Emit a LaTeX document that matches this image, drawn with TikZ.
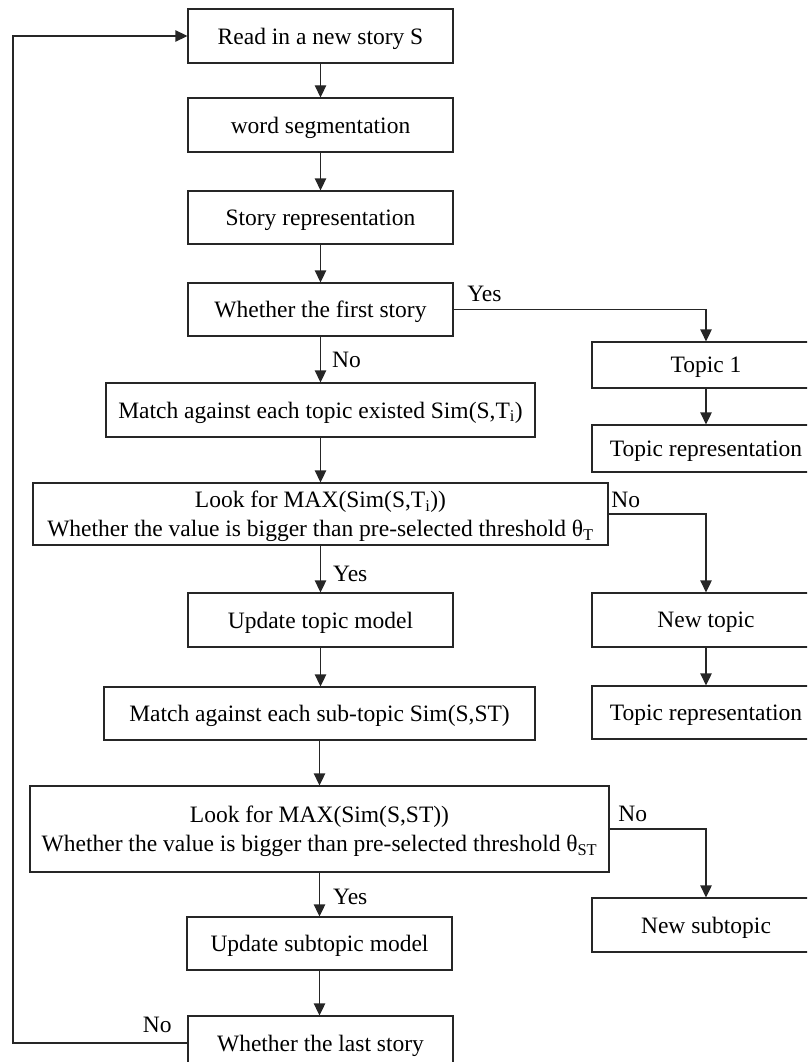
\documentclass[tikz,border=0pt]{standalone}
\usepackage{fontspec}
\setmainfont{Liberation Serif}
\usepackage{tikz}
\usetikzlibrary{arrows.meta}
\usetikzlibrary{positioning}
\colorlet{linecol}{black!85}
\newcommand\txtsize{\fontsize{23.5}{29}\selectfont}
\tikzstyle{stepbox}=[draw=linecol,line width=1.3pt,inner sep=0pt,minimum width=265pt,minimum height=54pt,align=center,text depth=0pt,font=\txtsize]
\tikzstyle{sidebox}=[stepbox,minimum width=228pt]
\tikzstyle{lbl}=[inner sep=0pt,font=\txtsize]
\tikzstyle{flowhead}=[>/.tip={Triangle[length=12pt,width=11.5pt]}]
\tikzstyle{flow}=[draw=linecol,line width=1.3pt,flowhead,->]
\begin{document}
\begin{tikzpicture}[x=1pt,y=-1pt]
	\useasboundingbox (0,0) rectangle (807,1062);
	\clip (0,0) rectangle (807,1062);
	% main column
	\node[stepbox] (read)   at (320.5,36)    {Read in a new story S};
	\node[stepbox] (seg)    at (320.5,125)   {word segmentation};
	\node[stepbox,minimum height=53pt] (srep) at (320.5,217.5) {Story representation};
	\node[stepbox,minimum height=53pt] (first) at (320.5,309.5) {Whether the first story};
	\node[stepbox,minimum width=429pt] (match) at (320.5,410) {Match against each topic existed Sim(S,T\textsubscript{i})};
	\node[stepbox,minimum width=575pt,minimum height=62pt] (look) at (320.5,514)
		{Look for MAX(Sim(S,T\textsubscript{i}))\\Whether the value is bigger than pre-selected threshold θ\textsubscript{T}};
	\node[stepbox] (upd)    at (320.5,620)   {Update topic model};
	\node[stepbox,minimum width=431pt,minimum height=53pt] (msub) at (319.5,713.5) {Match against each sub-topic Sim(S,ST)};
	\node[stepbox,minimum width=579pt,minimum height=86pt] (lsub) at (319.5,829)
		{Look for MAX(Sim(S,ST))\\Whether the value is bigger than pre-selected threshold θ\textsubscript{ST}};
	\node[stepbox,minimum height=53pt] (usub) at (319.5,943.5) {Update subtopic model};
	\node[stepbox] (last)   at (320.5,1043)  {Whether the last story};
	% right column
	\node[sidebox,minimum height=46pt] (topic) at (706,365)   {Topic 1};
	\node[sidebox,minimum height=47pt] (trep)  at (706,448.5) {Topic representation};
	\node[sidebox] (ntop)  at (706,620)   {New topic};
	\node[sidebox,minimum height=53pt] (trepb) at (706,712.5) {Topic representation};
	\node[sidebox] (nsub)  at (706,925)   {New subtopic};
	\coordinate (back) at (13,0);
	% connectors
	\draw[flow] (read) -- (seg);
	\draw[flow] (seg) -- (srep);
	\draw[flow] (srep) -- (first);
	\draw[flow] (first.east) node[lbl,above right=7pt and 13pt]{Yes} -| (topic.north);
	\draw[flow] (topic) -- (trep);
	\draw[flow] (first) --node[lbl,right=11pt]{No} (match);
	\draw[flow] (match) -- (look);
	\draw[flow] (look.east) node[lbl,above right=6pt and 2pt]{No} -| (ntop.north);
	\draw[flow] (ntop) -- (trepb);
	\draw[flow] (look) --node[lbl,right=12pt,pos=0.6]{Yes} (upd);
	\draw[flow] (upd.south) -- (upd.south |- msub.north);
	\draw[flow] (msub) -- (lsub);
	\draw[flow] (lsub.east) node[lbl,above right=7pt and 8pt]{No} -| (nsub.north);
	\draw[flow] (lsub) --node[lbl,right=13pt,pos=0.55]{Yes} (usub);
	\draw[flow] (usub.south) -- (usub.south |- last.north);
	\draw[flow] (last.west) node[lbl,above left=10pt and 15pt]{No} -- (last.west -| back) |- (read.west);
\end{tikzpicture}
\end{document}
